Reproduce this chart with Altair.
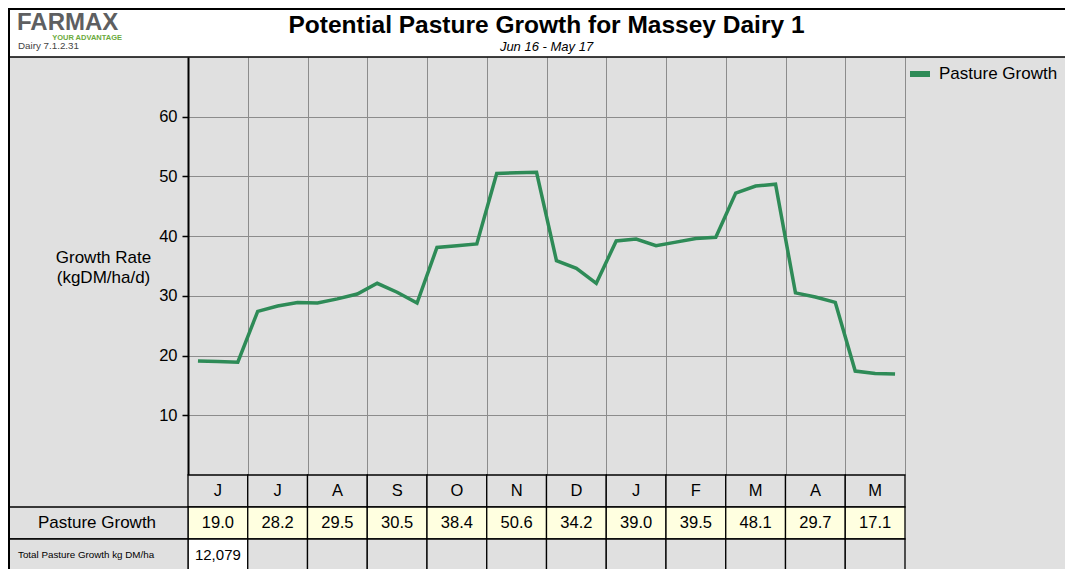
import altair as alt
import pandas as pd

F = "Liberation Sans"

# ---------------- data ----------------
months = ["J", "J", "A", "S", "O", "N", "D", "J", "F", "M", "A", "M"]
# three (ten-day) readings per month, Jun 16 .. May 17
decade_growth = [
    19.1, 19.0, 18.9,
    27.4, 28.3, 28.9,
    28.8, 29.5, 30.3,
    32.1, 30.6, 28.8,
    38.1, 38.4, 38.7,
    50.5, 50.6, 50.7,
    35.9, 34.6, 32.1,
    39.2, 39.5, 38.4,
    39.0, 39.6, 39.8,
    47.2, 48.4, 48.7,
    30.5, 29.8, 28.9,
    17.4, 17.0, 16.9,
]
monthly_growth = [19.0, 28.2, 29.5, 30.5, 38.4, 50.6, 34.2, 39.0, 39.5, 48.1, 29.7, 17.1]
total_growth = "12,079"
y_ticks = [10, 20, 30, 40, 50, 60]
series_name = "Pasture Growth"
rows = ["month", "value", "total"]
row_labels = {"value": "Pasture Growth", "total": "Total Pasture Growth kg DM/ha"}
title_text = "Potential Pasture Growth for Massey Dairy 1"
subtitle_text = "Jun 16 - May 17"

GREEN = "#2E8B57"
GRAY = "#E0E0E0"
YELLOW = "#FFFFE0"
GRID = "#8c8c8c"

# ---------------- tables ----------------
line_rows = []
for i, v in enumerate(decade_growth):
    m, d = divmod(i, 3)
    line_rows.append({"pos": m + (d + 0.5) / 3, "growth": v, "series": series_name})
line_df = pd.DataFrame(line_rows)

cell_rows = []
for m, lab in enumerate(months):
    cell_rows.append({"m0": m, "m1": m + 1, "mid": m + 0.5, "row": "month",
                      "fill": GRAY, "txt": lab, "fs": 16.5})
    cell_rows.append({"m0": m, "m1": m + 1, "mid": m + 0.5, "row": "value",
                      "fill": YELLOW, "txt": f"{monthly_growth[m]:.1f}", "fs": 16.5})
    cell_rows.append({"m0": m, "m1": m + 1, "mid": m + 0.5, "row": "total",
                      "fill": "white" if m == 0 else GRAY,
                      "txt": total_growth if m == 0 else "", "fs": 15})
cell_df = pd.DataFrame(cell_rows)

left_df = pd.DataFrame({"row": ["value", "total"],
                        "txt": [row_labels["value"], row_labels["total"]]})

x_scale = alt.Scale(domain=[0, 12], nice=False, zero=False)
x_axis = alt.Axis(values=list(range(13)), grid=True, gridColor=GRID, gridWidth=1,
                  labels=False, ticks=False, domain=False, title=None)
row_scale = alt.Scale(domain=rows, range=[418, 514], paddingInner=0, paddingOuter=0)

one = pd.DataFrame({"a": [0]})

# header white band
header = alt.Chart(one).mark_rect(fill="white").encode(
    x=alt.value(-180), x2=alt.value(885), y=alt.value(-49), y2=alt.value(0)
)

line = alt.Chart(line_df).mark_line(strokeWidth=3.5).encode(
    x=alt.X("pos:Q", scale=x_scale, axis=x_axis),
    y=alt.Y("growth:Q", scale=alt.Scale(domain=[0, 70], nice=False),
            axis=alt.Axis(values=y_ticks, grid=True, gridColor=GRID, gridWidth=1,
                          tickColor="black", tickSize=6, tickWidth=1.5,
                          domainColor="black", domainWidth=2,
                          labelFontSize=16.5, labelColor="black", labelPadding=5, labelFont=F,
                          title=["Growth Rate", "(kgDM/ha/d)"], titleAngle=0,
                          titleAlign="center", titleBaseline="alphabetic",
                          titleX=-85, titleY=205, titleFontSize=17, titleFont=F,
                          titleFontWeight="normal", titleColor="black", titleLineHeight=20)),
    color=alt.Color("series:N", scale=alt.Scale(domain=[series_name], range=[GREEN]),
                    legend=alt.Legend(title=None, orient="none", legendX=719, legendY=4,
                                      symbolType="M-1,0H1", symbolSize=400,
                                      symbolStrokeWidth=6, labelFontSize=17, labelFont=F,
                                      labelColor="black", labelOffset=6, padding=0)),
)

cells = alt.Chart(cell_df).mark_rect(stroke="black", strokeWidth=1.3).encode(
    x=alt.X("m0:Q", scale=x_scale, axis=x_axis),
    x2="m1",
    y=alt.Y("row:N", scale=row_scale, axis=None),
    fill=alt.Fill("fill:N", scale=None),
)

cell_text = alt.Chart(cell_df).mark_text(font=F, color="black", baseline="middle").encode(
    x=alt.X("mid:Q", scale=x_scale, axis=x_axis),
    y=alt.Y("row:N", scale=row_scale, axis=None),
    text="txt:N",
    size=alt.Size("fs:Q", scale=None),
)

left_cells = alt.Chart(left_df).mark_rect(stroke="black", strokeWidth=1.3, fill=GRAY).encode(
    x=alt.value(-180), x2=alt.value(0),
    y=alt.Y("row:N", scale=row_scale, axis=None),
)

left_val = alt.Chart(left_df[left_df.row == "value"]).mark_text(
    font=F, fontSize=17, color="black", baseline="middle", align="center").encode(
    x=alt.value(-91), y=alt.Y("row:N", scale=row_scale, axis=None), text="txt:N")

left_tot = alt.Chart(left_df[left_df.row == "total"]).mark_text(
    font=F, fontSize=9.8, color="black", baseline="middle", align="left").encode(
    x=alt.value(-170), y=alt.Y("row:N", scale=row_scale, axis=None), text="txt:N")

# frame lines
hdr_line = alt.Chart(one).mark_rule(color="black", strokeWidth=1.5).encode(
    x=alt.value(-180), x2=alt.value(885), y=alt.value(0))
top_line = alt.Chart(one).mark_rule(color="black", strokeWidth=2).encode(
    x=alt.value(-180), x2=alt.value(885), y=alt.value(-48))
left_line = alt.Chart(one).mark_rule(color="black", strokeWidth=2).encode(
    x=alt.value(-179), y=alt.value(-49), y2=alt.value(520))

# title / subtitle
title = alt.Chart(one).mark_text(
    text=title_text, font=F, fontSize=24.5, fontWeight="bold", color="black",
    align="center", baseline="alphabetic").encode(x=alt.value(358.5), y=alt.value(-24))
subtitle = alt.Chart(one).mark_text(
    text=subtitle_text, font=F, fontSize=13, fontStyle="italic", color="black",
    align="center", baseline="alphabetic").encode(x=alt.value(358.5), y=alt.value(-6))

# logo
logo1 = alt.Chart(one).mark_text(
    text="FARMAX", font=F, fontSize=24, fontWeight="bold", color="#5E5F61",
    align="left", baseline="alphabetic").encode(x=alt.value(-171), y=alt.value(-27))
logo2 = alt.Chart(one).mark_text(
    text="YOUR ADVANTAGE", font=F, fontSize=7.5, fontWeight="bold", color="#6AAA3C",
    align="right", baseline="alphabetic").encode(x=alt.value(-66), y=alt.value(-17.5))
logo3 = alt.Chart(one).mark_text(
    text="Dairy 7.1.2.31", font=F, fontSize=9.8, color="#444444",
    align="left", baseline="alphabetic").encode(x=alt.value(-170), y=alt.value(-8.5))

chart = alt.layer(
    header, line, cells, cell_text, left_cells, left_val, left_tot,
    hdr_line, top_line, left_line, title, subtitle, logo1, logo2, logo3,
).resolve_scale(y="independent").properties(
    width=717, height=418,
    padding={"left": 180, "top": 49, "right": 160, "bottom": 94},
    autosize=alt.AutoSizeParams(type="none"),
    background=GRAY,
).configure_view(fill="white", strokeWidth=0).configure(font=F)

chart.save("out.html", embed_options={"renderer": "svg", "actions": False})
